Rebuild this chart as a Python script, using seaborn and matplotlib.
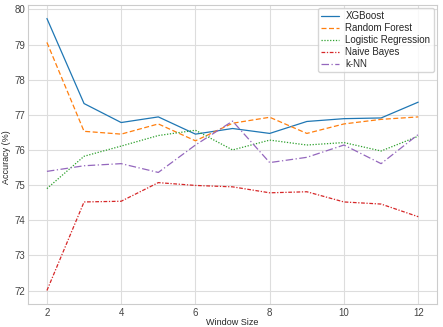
import numpy as np
import pandas as pd
import matplotlib
matplotlib.use('Agg')
import matplotlib.pyplot as plt
import seaborn as sns

# 数据：窗口大小 与 各模型准确率
window_sizes = [2, 3, 4, 5, 6, 7, 8, 9, 10, 11, 12]
xgboost = [79.74, 77.32, 76.78, 76.94, 76.45, 76.61, 76.47, 76.81, 76.89, 76.91, 77.36]
random_forest = [79.06, 76.53, 76.45, 76.74, 76.26, 76.76, 76.93, 76.47, 76.74, 76.87, 76.94]
logistic_regression = [74.90, 75.82, 76.11, 76.41, 76.56, 76.00, 76.28, 76.14, 76.21, 75.97, 76.39]
naive_bayes = [72.00, 74.52, 74.54, 75.07, 74.99, 74.95, 74.78, 74.81, 74.52, 74.46, 74.10]
knn = [75.39, 75.55, 75.61, 75.36, 76.14, 76.82, 75.64, 75.79, 76.14, 75.61, 76.44]

models = ['XGBoost', 'Random Forest', 'Logistic Regression', 'Naive Bayes', 'k-NN']
series = [xgboost, random_forest, logistic_regression, naive_bayes, knn]
colors = ['#1f77b4', '#ff7f0e', '#2ca02c', '#d62728', '#9467bd']
dash_list = [None, (4, 2), (1, 1.3), (3, 1.3, 1, 1.3), (6, 2, 1, 2)]

sns.set_theme(style='whitegrid')
plt.rcParams['font.family'] = ['Liberation Sans', 'DejaVu Sans']

fig, ax = plt.subplots(figsize=(4.43, 3.27), dpi=100)
fig.subplots_adjust(left=0.064, right=0.986, top=0.985, bottom=0.07)

for name, vals, c, d in zip(models, series, colors, dash_list):
    df = pd.DataFrame({'Window Size': window_sizes, 'Accuracy': vals})
    line = sns.lineplot(data=df, x='Window Size', y='Accuracy', ax=ax, color=c,
                        linewidth=0.9, label=name).lines[-1]
    if d is not None:
        line.set_dashes(d)

ax.set_xlabel('Window Size', fontsize=6.5, va='center')
ax.set_ylabel('Accuracy (%)', fontsize=6.5, va='center')
ax.xaxis.set_label_coords(0.5, -0.062)
ax.yaxis.set_label_coords(-0.053, 0.49)
ax.tick_params(axis='both', labelsize=7, pad=2.5, length=0, colors='#444444')
ax.set_xticks([2, 4, 6, 8, 10, 12])

for s in ax.spines.values():
    s.set_color('#cccccc')
    s.set_linewidth(0.8)
ax.grid(color='#dddddd', linewidth=0.8)

leg = ax.legend(loc='upper right', fontsize=7, frameon=True, handlelength=1.8,
                handletextpad=0.7, borderpad=0.35, labelspacing=0.2,
                borderaxespad=0.3)
for h, d in zip(leg.get_lines(), dash_list):
    if d is not None:
        h.set_dashes(d)

plt.savefig('out.png', dpi=100)
